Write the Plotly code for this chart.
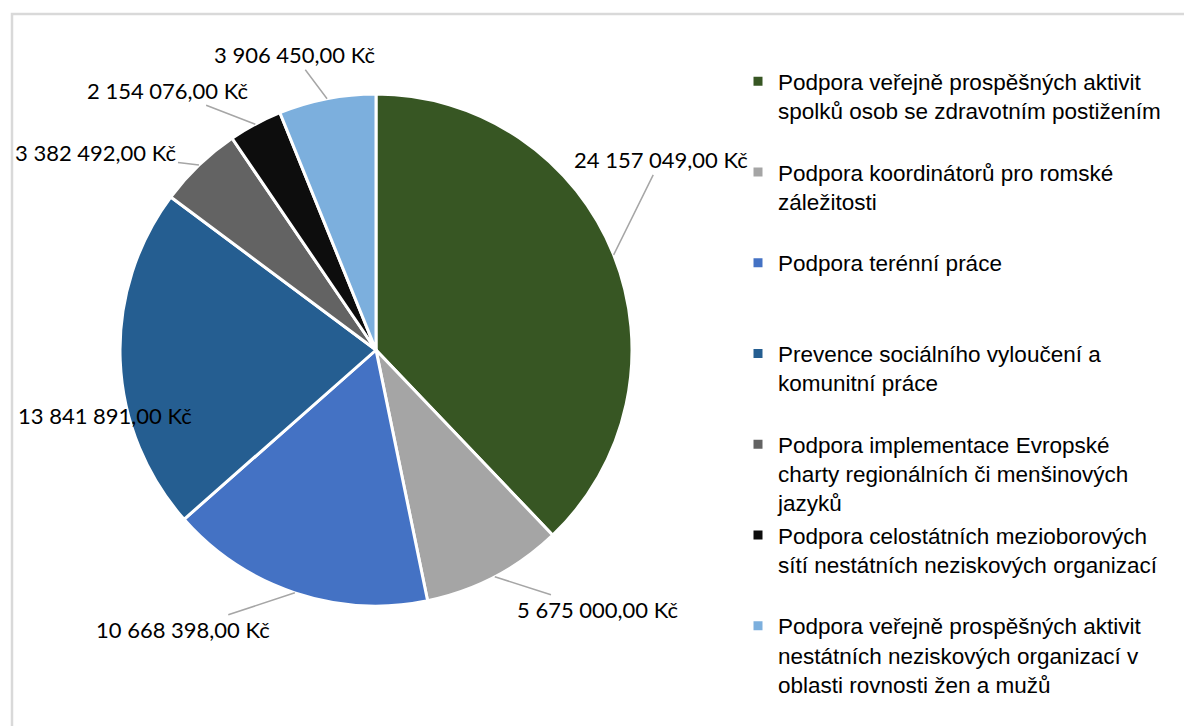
import math
import plotly.graph_objects as go

categories = [
    "Podpora veřejně prospěšných aktivit<br>spolků osob se zdravotním postižením",
    "Podpora koordinátorů pro romské<br>záležitosti",
    "Podpora terénní práce",
    "Prevence sociálního vyloučení a<br>komunitní práce",
    "Podpora implementace Evropské<br>charty regionálních či menšinových<br>jazyků",
    "Podpora celostátních mezioborových<br>sítí nestátních neziskových organizací",
    "Podpora veřejně prospěšných aktivit<br>nestátních neziskových organizací v<br>oblasti rovnosti žen a mužů",
]
values = [24157049.00, 5675000.00, 10668398.00, 13841891.00, 3382492.00, 2154076.00, 3906450.00]
colors = ["#375623", "#A5A5A5", "#4472C4", "#255E91", "#636363", "#0D0D0D", "#7CAFDD"]

# label offsets (pixels) from the slice edge to the label centre, and whether a leader line is drawn
label_dx = [47, 103, -112, -15, -103, -88, -33]
label_dy = [-95, 33, 37, 55, -13, -34, -44]
leader = [True, True, True, False, True, True, True]


def pad(label, n=3):
    k = label.count("<br>") + 1
    return label + "<br>\u00a0" * (n - k)


legend_labels = [pad(c) for c in categories]

W, H = 1184, 718           # page body has an 8px margin
cx, cy, r = 368, 342, 256  # pie centre / radius in figure pixels

fig = go.Figure(go.Pie(
    labels=legend_labels,
    values=values,
    sort=False,
    direction="clockwise",
    rotation=0,
    marker=dict(colors=colors, line=dict(color="white", width=3)),
    textinfo="none",
    hoverinfo="label+value",
    domain=dict(x=[(cx - r) / W, (cx + r) / W], y=[(H - cy - r) / H, (H - cy + r) / H]),
    automargin=False,
))


def fmt(v):
    s = f"{v:,.2f}".replace(",", " ").replace(".", ",")
    return s + " Kč"


total = sum(values)
annotations = []
cum = 0.0
for v, dx, dy, ld in zip(values, label_dx, label_dy, leader):
    mid = (cum + v / 2) / total * 2 * math.pi
    cum += v
    px = cx + r * math.sin(mid)
    py = cy - r * math.cos(mid)
    a = dict(xref="paper", yref="paper", x=px / W, y=(H - py) / H,
             text=fmt(v), font=dict(family="Lato", size=22, color="#000000"))
    if ld:
        a.update(showarrow=True, ax=dx, ay=dy, arrowhead=0, arrowwidth=1.5,
                 arrowcolor="#A6A6A6", standoff=0, startstandoff=0)
    else:
        a.update(showarrow=False, xanchor="center", yanchor="middle",
                 xshift=dx, yshift=-dy)
    annotations.append(a)

fig.update_layout(
    width=W, height=H,
    margin=dict(l=0, r=0, t=0, b=0),
    paper_bgcolor="white",
    showlegend=True,
    legend=dict(
        x=730 / W, y=(H - 52) / H, xanchor="left", yanchor="top",
        font=dict(family="Liberation Sans", size=22.5, color="#000000"),
        valign="top", bgcolor="rgba(0,0,0,0)",
    ),
    annotations=annotations,
    shapes=[dict(type="rect", xref="paper", yref="paper",
                 x0=4 / W, x1=1.02, y0=-0.02, y1=(H - 6) / H,
                 line=dict(color="#D9D9D9", width=2.5), fillcolor="rgba(0,0,0,0)", layer="below")],
)

fig.write_html("out.html")
